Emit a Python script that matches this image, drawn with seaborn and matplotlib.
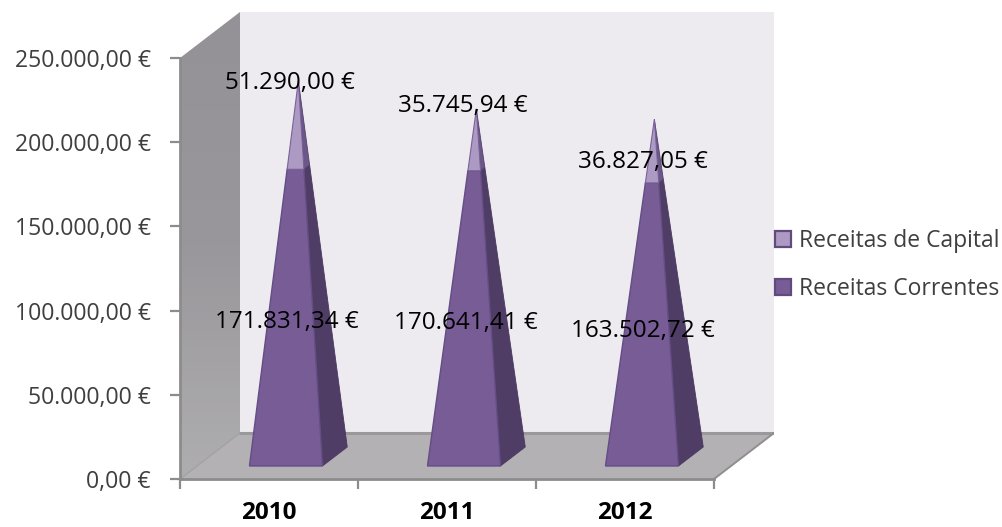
import numpy as np
import matplotlib
matplotlib.use("Agg")
import matplotlib.pyplot as plt
import seaborn as sns
from matplotlib.patches import Patch, Polygon

years = ["2010", "2011", "2012"]
correntes = [171831.34, 170641.41, 163502.72]
capital = [51290.00, 35745.94, 36827.05]
series_names = ["Receitas de Capital", "Receitas Correntes"]
y_ticks = [0, 50000, 100000, 150000, 200000, 250000]

sns.set_theme(style="white")
plt.rcParams["font.family"] = ["Open Sans", "DejaVu Sans"]


def euro(v):
    s = f"{v:,.2f}".replace(",", "#").replace(".", ",").replace("#", ".")
    return s + " €"


fig = plt.figure(figsize=(10.03, 5.27), dpi=100)
ax = fig.add_axes([180 / 1003, 48 / 527, 594 / 1003, 467 / 527])

# depth of the fake 3d box, in data units
dx = 60 / 178
dy = 27316
ax.set_xlim(-0.5, 2.5 + dx)
ax.set_ylim(0, 250000 + dy)

# walls and floor
ax.fill([-0.5 + dx, 2.5 + dx, 2.5 + dx, -0.5 + dx], [dy, dy, 250000 + dy, 250000 + dy],
        color="#edebf0", lw=0, zorder=1)
wall = Polygon([(-0.5, 0), (-0.5, 250000), (-0.5 + dx, 250000 + dy), (-0.5 + dx, dy)],
               transform=ax.transData, fc="none", ec="none")
ax.add_patch(wall)
grad = ax.imshow(np.linspace(0, 1, 100).reshape(-1, 1), cmap=sns.blend_palette(["#aeadaf", "#99979b", "#949296"], as_cmap=True),
                 extent=(-0.5, -0.5 + dx, 0, 250000 + dy), origin="lower", aspect="auto", zorder=1)
grad.set_clip_path(wall)
ax.fill([-0.5, 2.5, 2.5 + dx, -0.5 + dx], [0, 0, dy, dy], color="#b3b1b4", lw=0, zorder=2)
ax.plot([-0.5 + dx, 2.5 + dx], [dy, dy], color="#9a989b", lw=2.2, zorder=2)
ax.plot([2.5, 2.5 + dx], [0, dy], color="#8f8f8f", lw=1.4, zorder=2)
ax.plot([-0.5, -0.5 + dx], [0, dy], color="#a2a1a3", lw=1, zorder=2)

# pyramid shape
half = 36.5 / 178
d_front = 0.283
d_back = 0.696
d_mid = (d_front + d_back) / 2

for i, year in enumerate(years):
    total = correntes[i] + capital[i]
    fl = np.array([i - half + d_front * dx, d_front * dy])
    fr = np.array([i + half + d_front * dx, d_front * dy])
    br = np.array([i + half + d_back * dx, d_back * dy])
    apex = np.array([i + d_mid * dx, total + d_mid * dy])
    t = correntes[i] / total
    fl2, fr2, br2 = [p + (apex - p) * t for p in (fl, fr, br)]
    # side faces first, then front ones
    ax.add_patch(Polygon([fr, br, br2, fr2], fc="#4f3d66", ec="#4a3960", lw=0.6, zorder=3))
    ax.add_patch(Polygon([fr2, br2, apex], fc="#6c5789", ec="#54416f", lw=0.6, zorder=3))
    ax.add_patch(Polygon([fl, fr, fr2, fl2], fc="#775c96", ec="#654d85", lw=1, zorder=4))
    ax.add_patch(Polygon([fl2, fr2, apex], fc="#ac9ac2", ec="#7a6198", lw=0.8, zorder=4))

# axes
sns.despine(ax=ax, top=True, right=True)
ax.spines["left"].set_bounds(0, 250000)
ax.spines["bottom"].set_bounds(-0.5, 2.5)
for side in ["left", "bottom"]:
    ax.spines[side].set_color("#8c8c8c")
    ax.spines[side].set_linewidth(2)
    ax.spines[side].set_zorder(5)

ax.set_yticks(y_ticks)
ax.set_yticklabels([euro(v) for v in y_ticks], fontsize=16.6, color="#3f3f3f")
ax.set_xticks([-0.5, 0.5, 1.5, 2.5])
ax.set_xticklabels([])
ax.set_xticks(range(3), labels=years, minor=True, fontsize=17.5, fontweight="bold", color="black")
ax.tick_params(axis="y", length=7, width=1.6, color="#8c8c8c", pad=14, left=True)
ax.tick_params(axis="x", which="major", length=7, width=1.6, color="#8c8c8c", bottom=True)
ax.tick_params(axis="x", which="minor", length=0, pad=16)

# data labels, placed where they are in the picture (pixels)
top_pos = [(290, 83), (463, 106), (643, 162)]
low_pos = [(287, 322), (466, 323), (643, 331)]
for vals, pos in [(capital, top_pos), (correntes, low_pos)]:
    for v, (px, py) in zip(vals, pos):
        fig.text(px / 1003, 1 - py / 527, euro(v), ha="center", va="center",
                 fontsize=17.5, color="black", zorder=10)

handles = [Patch(fc="#ac9ac2", ec="#604b7c", lw=1.6), Patch(fc="#775c96", ec="#604b7c", lw=1.6)]
fig.legend(handles, series_names, loc="center left", bbox_to_anchor=(775 / 1003, 1 - 265 / 527),
           frameon=False, fontsize=16.5, labelcolor="#3f3f3f", handlelength=0.7, handleheight=0.7,
           handletextpad=0.35, labelspacing=1.05, borderpad=0, borderaxespad=0)

fig.savefig("out.png", dpi=100)
